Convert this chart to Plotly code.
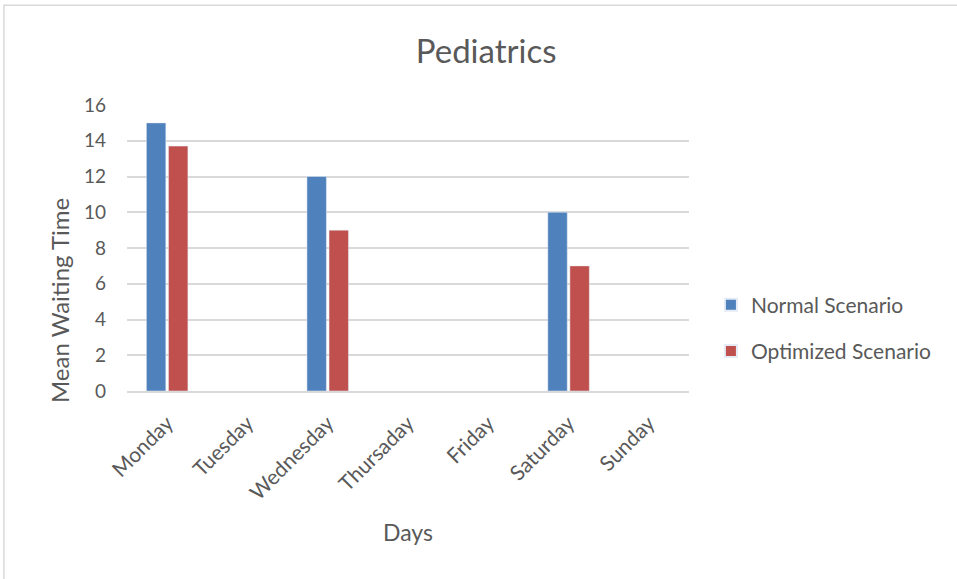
import plotly.graph_objects as go

days = ["Monday", "Tuesday", "Wednesday", "Thursaday", "Friday", "Saturday", "Sunday"]
normal = [15, None, 12, None, None, 10, None]
optimized = [13.7, None, 9, None, None, 7, None]
y_ticks = [0, 2, 4, 6, 8, 10, 12, 14, 16]

FONT = "Lato, 'Open Sans', sans-serif"
TXT = "#595959"

fig = go.Figure()
fig.add_trace(go.Bar(name="Normal Scenario", x=days, y=normal, marker_color="#4F81BD",
                     legendgroup="n"))
fig.add_trace(go.Bar(name="Optimized Scenario", x=days, y=optimized, marker_color="#C0504D",
                     legendgroup="o"))

fig.update_layout(
    width=957, height=579,
    margin=dict(l=127, r=268, t=105, b=188),
    paper_bgcolor="white", plot_bgcolor="white",
    font=dict(family=FONT, color=TXT, size=22),
    title=dict(text="Pediatrics", x=0.508, xanchor="center", y=0.912, yanchor="middle",
               font=dict(size=33, color=TXT, family=FONT)),
    barmode="group", bargap=0.45, bargroupgap=0.12,
    legend=dict(x=1.039, y=0.22, xanchor="left", yanchor="middle",
                font=dict(size=21, color=TXT), tracegroupgap=16, itemsizing="constant",
                bgcolor="rgba(0,0,0,0)"),
    xaxis=dict(title=dict(text="Days", font=dict(size=23, color=TXT), standoff=22),
               tickangle=-45, tickfont=dict(size=21, color=TXT), ticklabelstandoff=10,
               showline=True, linecolor="#D9D9D9", linewidth=1.5, showgrid=False,
               ticks=""),
    yaxis=dict(range=[0, 16], tickvals=y_ticks, tickfont=dict(size=19, color=TXT),
               ticklabelstandoff=20,
               showgrid=True, gridcolor="#D9D9D9", gridwidth=1.5, zeroline=False,
               showline=False, ticks="", ticklen=0),
    # vertical axis title, centred on the whole chart body (bars plus category labels)
    annotations=[dict(text="Mean Waiting Time", textangle=-90, showarrow=False,
                      xref="paper", yref="paper", x=-0.121, y=0.318,
                      xanchor="center", yanchor="middle",
                      font=dict(size=24, color=TXT, family=FONT))],
    shapes=[dict(type="rect", xref="paper", yref="paper",
                 x0=-0.219, x1=1.6, y0=-0.7, y1=1.349,
                 line=dict(color="#D9D9D9", width=1.5), fillcolor="rgba(0,0,0,0)", layer="below")],
)

fig.write_html("out.html")
